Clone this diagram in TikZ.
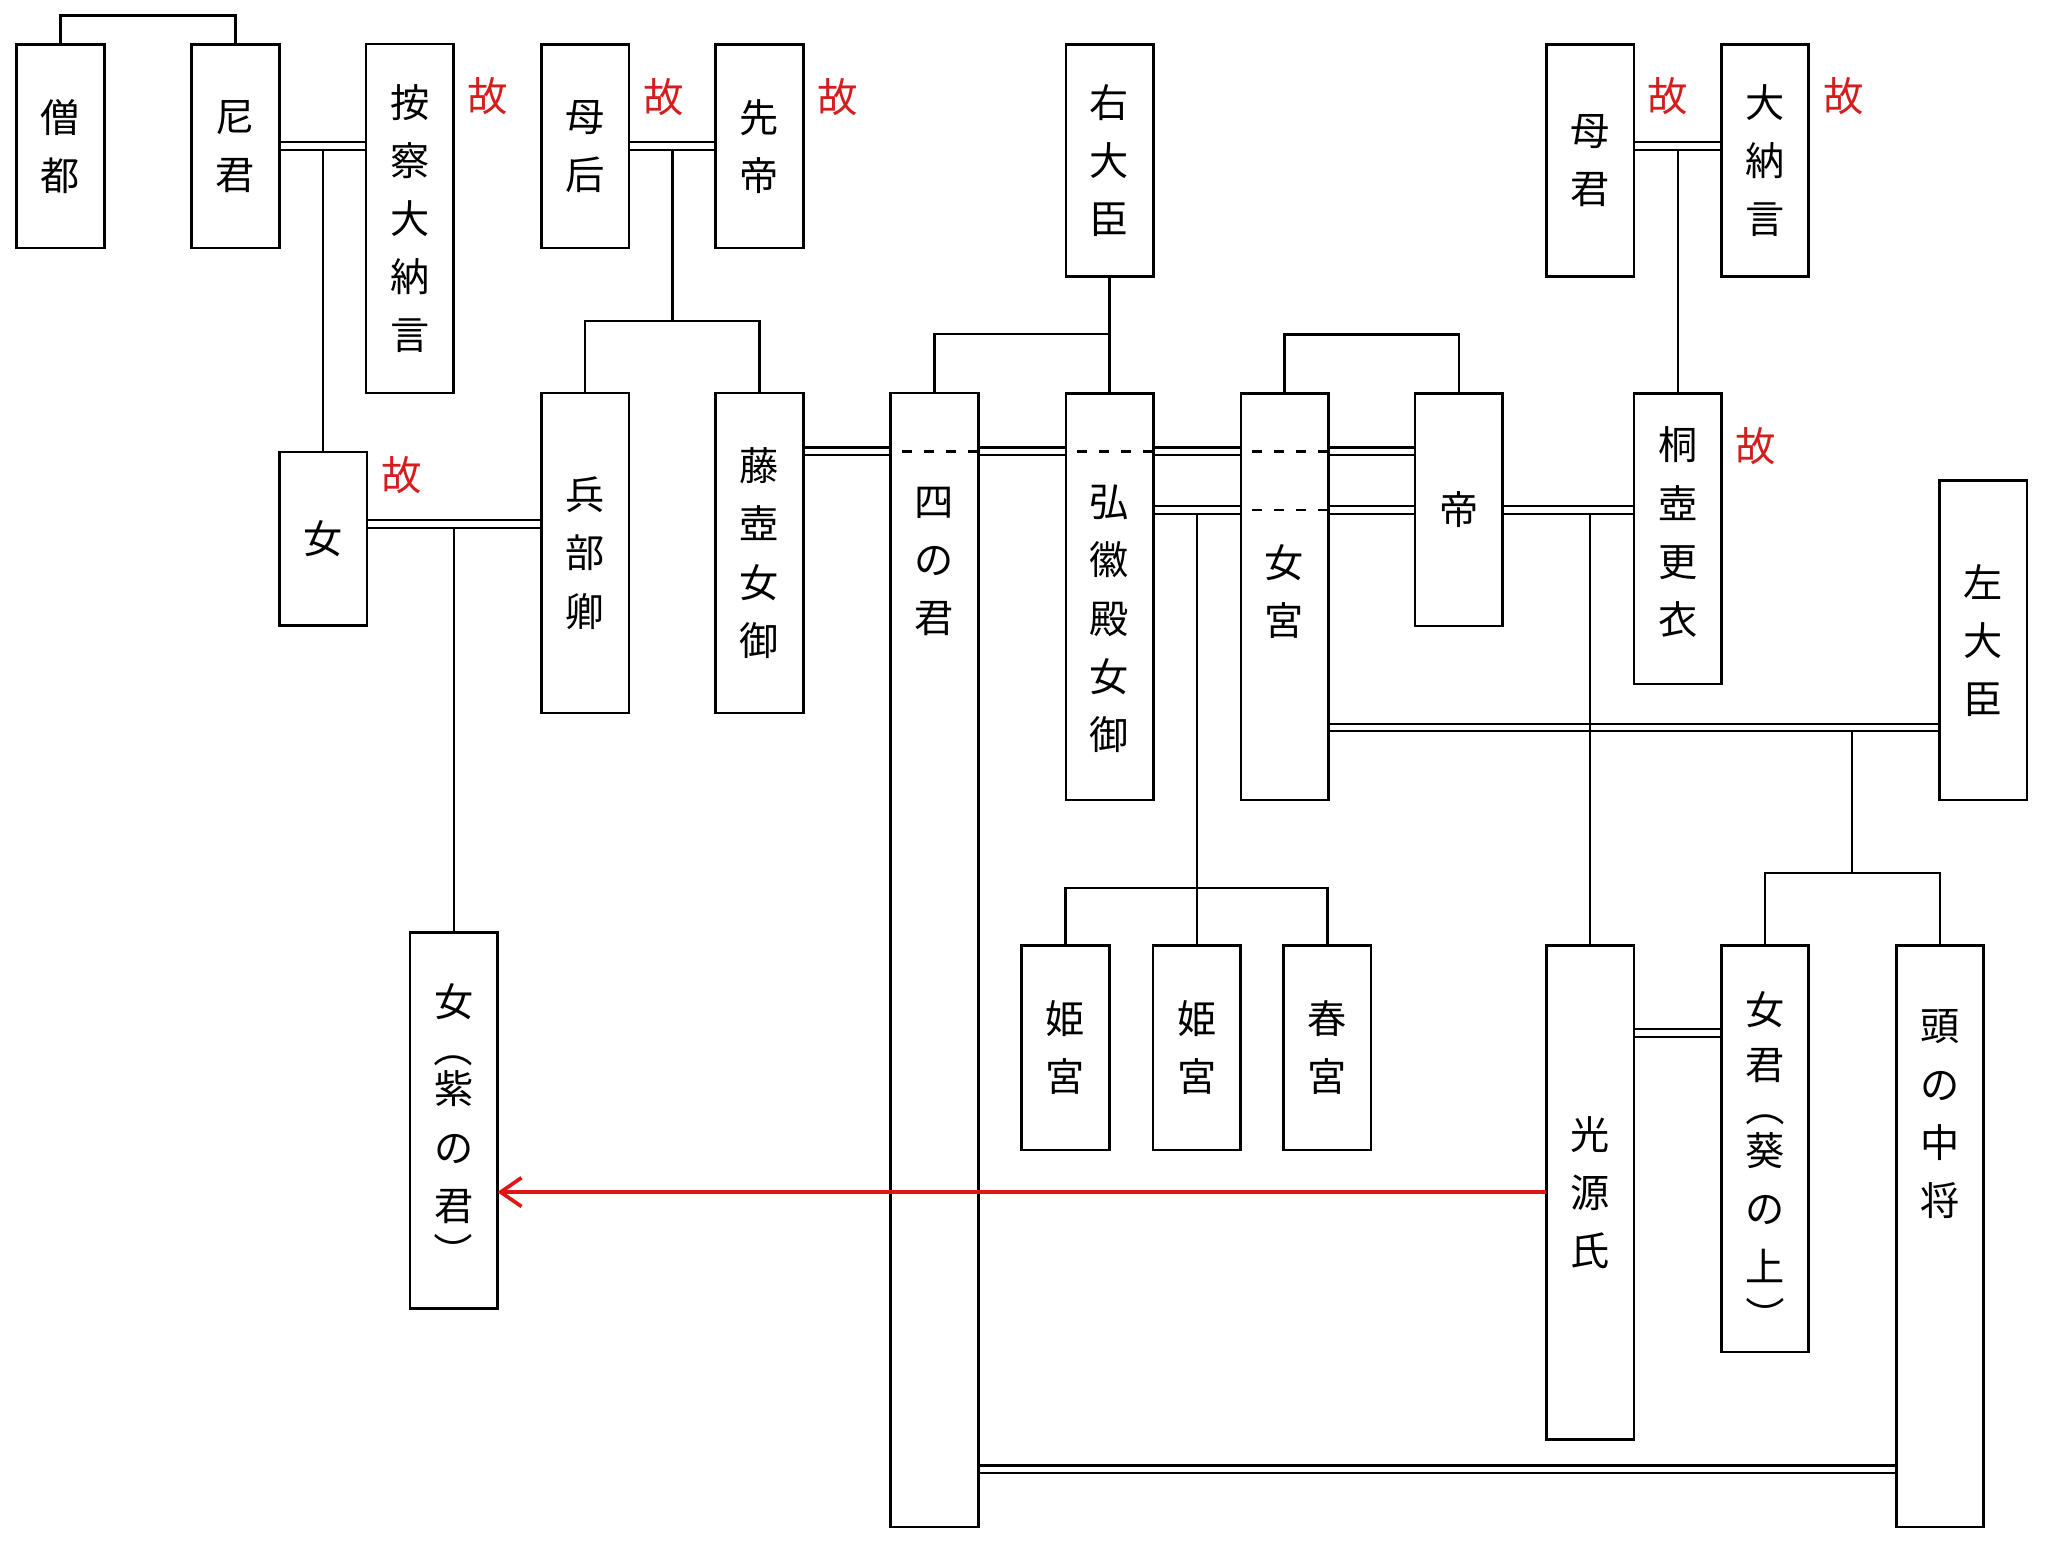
\documentclass[tikz,border=0pt]{standalone}
\usepackage{fontspec}
\usepackage{graphicx}
\newfontfamily\jp{Noto Sans CJK JP}
\usetikzlibrary{calc,arrows.meta,backgrounds}
\definecolor{kored}{RGB}{212,30,30}
\definecolor{arrred}{RGB}{222,22,22}
\newcommand{\vlp}{\rotatebox[origin=c]{-90}{（}}
\newcommand{\vrp}{\rotatebox[origin=c]{-90}{）}}
\begin{document}
\begin{tikzpicture}[x=1pt,y=-1pt,
  box/.style={draw, line width=2pt, minimum width=67pt, inner sep=0pt, outer sep=0pt,
              font=\jp\fontsize{30pt}{44.5pt}\selectfont, align=center},
  vt/.style={font=\jp\fontsize{30pt}{44.5pt}\selectfont, align=center, inner sep=0pt},
  ko/.style={font=\jp\fontsize{31pt}{31pt}\selectfont, text=kored, inner sep=0pt},
  link/.style={line width=1.7pt},
  wed/.style={draw, line width=1.6pt, double=white, double distance=4.4pt},
  dsh/.style={line width=1.7pt, dash pattern=on 7.7pt off 9.3pt},
  arr/.style={draw=arrred, line width=2.8pt, -{Straight Barb[length=16pt,width=22pt]}},
]
\useasboundingbox (0,0) rectangle (1568,1182);

% ---- boxes ----
\node[box, minimum height=156pt] (sozu) at (46.3,112) {僧\\都};
\node[box, minimum height=156pt] (amagimi) at (180.3,112) {尼\\君};
\node[box, minimum height=267pt] (azechi) at (313.8,167.3) {按\\察\\大\\納\\言};
\node[box, minimum height=156pt] (bogo) at (448,112) {母\\后};
\node[box, minimum height=156pt] (sentei) at (581.5,112) {先\\帝};
\node[box, minimum height=178pt] (udaijin) at (849.5,122.9) {右\\大\\臣};
\node[box, minimum height=178pt] (hahagimi) at (1217.5,122.9) {母\\君};
\node[box, minimum height=178pt] (dainagon) at (1351.3,122.9) {大\\納\\言};

\node[box, minimum height=133pt] (onna) at (247.5,412.5) {女};
\node[box, minimum height=245pt] (hyobu) at (448,423.5) {兵\\部\\卿};
\node[box, minimum height=245pt] (fujitsubo) at (581.5,423.5) {藤\\壺\\女\\御};
\node[box, minimum height=868pt, label={[vt,yshift=305pt]center:{四\\の\\君}}] (yonokimi) at (715.5,735) {};
\node[box, minimum height=311.5pt, label={[vt,yshift=-17pt]center:{弘\\徽\\殿\\女\\御}}] (kokiden) at (849.5,456.8) {};
\node[box, minimum height=311.5pt, label={[vt,yshift=4pt]center:{女\\宮}}] (onnamiya) at (983.5,456.8) {};
\node[box, minimum height=178.3pt] (mikado) at (1116.8,390.2) {帝};
\node[box, minimum height=222.7pt, label={[vt,yshift=5pt]center:{桐\\壺\\更\\衣}}] (kiritsubo) at (1284.5,412.4) {};
\node[box, minimum height=244.5pt] (sadaijin) at (1518.5,490.3) {左\\大\\臣};

\node[box, minimum height=288pt, label={[vt,yshift=-5.4pt]center:{女\\[-8.5pt]\vlp\\[-13.5pt]紫\\の\\君\\[-8.5pt]\vrp}}] (murasaki) at (347.3,858) {};
\node[box, minimum height=156.5pt] (himemiya1) at (815.8,802.3) {姫\\宮};
\node[box, minimum height=156.5pt] (himemiya2) at (916.3,802.3) {姫\\宮};
\node[box, minimum height=156.5pt] (togu) at (1016.3,802.3) {春\\宮};
\node[box, minimum height=378pt] (genji) at (1217.5,913) {光\\源\\氏};
\node[box, minimum height=311pt, label={[vt,yshift=-11.2pt]center:{女\\[-2pt]君\\[-12pt]\vlp\\[-11.5pt]葵\\の\\上\\[-7pt]\vrp}}] (aoi) at (1351.3,879.5) {};
\node[box, minimum height=445pt, label={[vt,yshift=93.5pt]center:{頭\\の\\中\\将}}] (tonochujo) at (1485.3,946.5) {};

% ---- 故 marks ----
\node[ko] (ko1) at ($(azechi.north east)+(26.5,40)$) {故};
\node[ko] (ko2) at ($(bogo.north east)+(26.3,40)$) {故};
\node[ko] (ko3) at ($(sentei.north east)+(26.5,40)$) {故};
\node[ko] (ko4) at ($(onna.north east)+(26.5,17.7)$) {故};
\node[ko] (ko5) at ($(hahagimi.north east)+(26,40)$) {故};
\node[ko] (ko6) at ($(dainagon.north east)+(26.5,40)$) {故};
\node[ko] (ko7) at ($(kiritsubo.north east)+(26,40.5)$) {故};

% ---- level coordinates ----
\coordinate (yA) at (0,112);    \coordinate (jA) at (0,115);
\coordinate (yB) at (0,401.4);  \coordinate (jB) at (0,404.3);
\coordinate (yC) at (0,345.6);
\coordinate (yD) at (0,390.2);  \coordinate (jD) at (0,393.1);
\coordinate (yE) at (0,557);    \coordinate (jE) at (0,560);
\coordinate (yF) at (0,791);
\coordinate (yG) at (0,1125);
\coordinate (yR) at (0,912.7);
\coordinate (kB) at (514.8,245.5);
\coordinate (kS) at (1418.2,668.4);

% ---- marriages (double lines) ----
\begin{scope}[on background layer]
\draw[wed] (amagimi.east |- yA) -- (azechi.west |- yA);
\draw[wed] (bogo.east |- yA) -- (sentei.west |- yA);
\draw[wed] (hahagimi.east |- yA) -- (dainagon.west |- yA);
\draw[wed] (onna.east |- yB) -- (hyobu.west |- yB);
\draw[wed] (fujitsubo.east |- yC) -- (yonokimi.west |- yC);
\draw[wed] (yonokimi.east |- yC) -- (kokiden.west |- yC);
\draw[wed] (kokiden.east |- yC) -- (onnamiya.west |- yC);
\draw[wed] (onnamiya.east |- yC) -- (mikado.west |- yC);
\draw[wed] (kokiden.east |- yD) -- (onnamiya.west |- yD);
\draw[wed] (onnamiya.east |- yD) -- (mikado.west |- yD);
\draw[wed] (mikado.east |- yD) -- (kiritsubo.west |- yD);
\draw[wed] (onnamiya.east |- yE) -- (sadaijin.west |- yE);
\draw[wed] (genji.east |- yF) -- (aoi.west |- yF);
\draw[wed] (yonokimi.east |- yG) -- (tonochujo.west |- yG);
\end{scope}

% ---- dashed continuations inside boxes ----
\draw[dsh] (yonokimi.east |- yC) -- (yonokimi.west |- yC);
\draw[dsh] (kokiden.east |- yC) -- (kokiden.west |- yC);
\draw[dsh] (onnamiya.east |- yC) -- (onnamiya.west |- yC);
\draw[dsh] (onnamiya.east |- yD) -- (onnamiya.west |- yD);

% ---- descent lines ----
\draw[link] (sozu.north) -- ++(0,-22.2) -| (amagimi.north);
\draw[link] (onna.north) -- (onna.north |- jA);
\draw[link] (kB |- jA) -- (kB);
\draw[link] (hyobu.north) |- (kB) -| (fujitsubo.north);
\draw[link] (kiritsubo.north) -- (kiritsubo.north |- jA);
\draw[link] (udaijin.south) -- (kokiden.north);
\draw[link] (kokiden.north |- 0,256) -| (yonokimi.north);
\draw[link] (onnamiya.north) -- ++(0,-45) -| (mikado.north);
\draw[link] (murasaki.north) -- (murasaki.north |- jB);
\draw[link] (himemiya2.north) -- (himemiya2.north |- jD);
\draw[link] (himemiya1.north) -- ++(0,-44.4) -| (togu.north);
\draw[link] (genji.north) -- (genji.north |- jD);
\draw[link] (kS |- jE) -- (kS);
\draw[link] (aoi.north) |- (kS) -| (tonochujo.north);

% ---- red arrow ----
\draw[arr] (genji.west |- yR) -- (murasaki.east |- yR);
\end{tikzpicture}
\end{document}
